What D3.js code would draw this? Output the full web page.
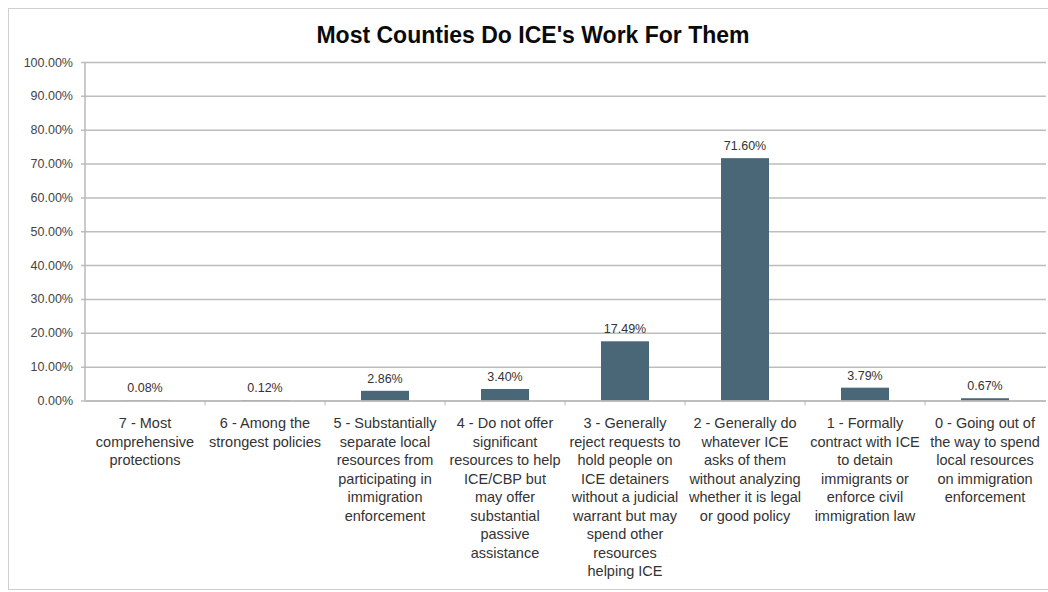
<!DOCTYPE html>
<html>
<head>
<meta charset="utf-8">
<script src="https://cdn.jsdelivr.net/npm/d3@7"></script>
<style>
  body { margin: 0; background: #fff; }
  text { font-family: "Liberation Sans", Arial, sans-serif; }
</style>
</head>
<body>
<svg id="chart" width="1048" height="592"></svg>
<script>
const categories = ["7", "6", "5", "4", "3", "2", "1", "0"];
const shares = [0.08, 0.12, 2.86, 3.40, 17.49, 71.60, 3.79, 0.67];
const categoryLines = [
    ["7 - Most", "comprehensive", "protections"],
    ["6 - Among the", "strongest policies"],
    ["5 - Substantially", "separate local", "resources from", "participating in", "immigration", "enforcement"],
    ["4 - Do not offer", "significant", "resources to help", "ICE/CBP but", "may offer", "substantial", "passive", "assistance"],
    ["3 - Generally", "reject requests to", "hold people on", "ICE detainers", "without a judicial", "warrant but may", "spend other", "resources", "helping ICE"],
    ["2 - Generally do", "whatever ICE", "asks of them", "without analyzing", "whether it is legal", "or good policy"],
    ["1 - Formally", "contract with ICE", "to detain", "immigrants or", "enforce civil", "immigration law"],
    ["0 - Going out of", "the way to spend", "local resources", "on immigration", "enforcement"]
];
const yTicks = [0, 10, 20, 30, 40, 50, 60, 70, 80, 90, 100];

const svg = d3.select("#chart");

// outer frame
svg.append("rect")
    .attr("x", 8.5).attr("y", 8.5)
    .attr("width", 1100).attr("height", 581)
    .attr("fill", "none")
    .attr("stroke", "#cfcfcf");

svg.append("text")
    .attr("x", 533).attr("y", 43)
    .attr("text-anchor", "middle")
    .style("font-size", "23px")
    .style("font-weight", "bold")
    .style("fill", "#0a0a0a")
    .text("Most Counties Do ICE's Work For Them");

const plotLeft = 85, plotRight = 1045, plotTop = 62, plotBottom = 400.5;

const x = d3.scaleBand()
    .domain(categories)
    .range([plotLeft, plotRight])
    .paddingInner(0.6)
    .paddingOuter(0.3);

const band = d3.scaleBand().domain(categories).range([plotLeft, plotRight]);

const y = d3.scaleLinear()
    .domain([0, 100])
    .range([plotBottom, plotTop]);

// gridlines + y labels
const yAxis = svg.append("g")
    .attr("transform", `translate(${plotLeft},0)`)
    .call(d3.axisLeft(y)
        .tickValues(yTicks)
        .tickSize(-(plotRight - plotLeft + 1))
        .tickPadding(12)
        .tickFormat(d => d.toFixed(2) + "%"));
yAxis.select(".domain").remove();
yAxis.selectAll(".tick line")
    .attr("x1", -4)
    .attr("stroke", "#bdbdbd")
    .attr("stroke-width", 1.5);
yAxis.selectAll(".tick text")
    .style("font-size", "12.5px")
    .style("fill", "#444");

// bars
svg.append("g").selectAll("rect")
    .data(shares)
    .join("rect")
    .attr("x", (d, i) => x(categories[i]))
    .attr("y", d => y(d))
    .attr("width", x.bandwidth())
    .attr("height", d => y(0) - y(d))
    .attr("fill", "#4a6778");

// value labels
svg.append("g").selectAll("text")
    .data(shares)
    .join("text")
    .attr("x", (d, i) => x(categories[i]) + x.bandwidth() / 2)
    .attr("y", d => y(d) - 8)
    .attr("text-anchor", "middle")
    .style("font-size", "12.5px")
    .style("fill", "#333")
    .text(d => d.toFixed(2) + "%");

// x axis
const xAxis = svg.append("g")
    .attr("transform", `translate(0,${plotBottom})`)
    .call(d3.axisBottom(band).tickSize(0).tickFormat(""));
xAxis.select(".domain")
    .attr("stroke", "#b8b8b8")
    .attr("stroke-width", 1.5);
xAxis.selectAll(".tick").remove();

// y axis line
svg.append("line")
    .attr("x1", plotLeft).attr("x2", plotLeft)
    .attr("y1", plotTop).attr("y2", plotBottom)
    .attr("stroke", "#b8b8b8")
    .attr("stroke-width", 1.5);

// band boundary ticks
svg.append("g").selectAll("line")
    .data(categories.slice(1))
    .join("line")
    .attr("x1", d => band(d)).attr("x2", d => band(d))
    .attr("y1", plotBottom).attr("y2", plotBottom + 5)
    .attr("stroke", "#b8b8b8");

// category labels
const labels = svg.append("g").selectAll("text")
    .data(categoryLines)
    .join("text")
    .attr("x", (d, i) => band(categories[i]) + band.bandwidth() / 2)
    .attr("y", 428)
    .attr("text-anchor", "middle")
    .style("font-size", "14.5px")
    .style("fill", "#333");
labels.selectAll("tspan")
    .data((d, i) => d.map(line => ({ line, i })))
    .join("tspan")
    .attr("x", d => band(categories[d.i]) + band.bandwidth() / 2)
    .attr("dy", (d, j) => j === 0 ? 0 : 18.5)
    .text(d => d.line);
</script>
</body>
</html>
